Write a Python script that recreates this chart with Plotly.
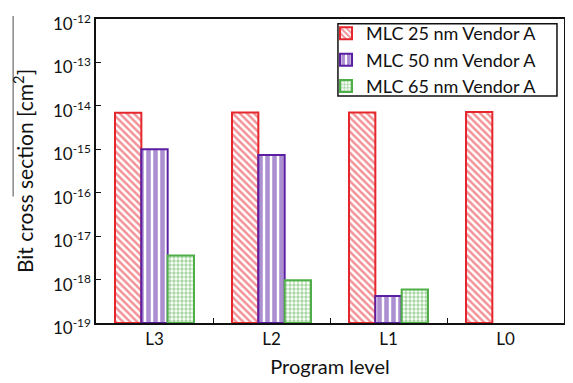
import plotly.graph_objects as go

categories = ["L3", "L2", "L1", "L0"]
mlc25 = [6.9e-15, 7.0e-15, 7.0e-15, 7.2e-15]
mlc50 = [1.0e-15, 7.4e-16, 3.2e-19, None]
mlc65 = [3.5e-18, 8.7e-19, 4.9e-19, None]
series_names = ["MLC 25 nm Vendor A", "MLC 50 nm Vendor A", "MLC 65 nm Vendor A"]
ytick_vals = [1e-19, 1e-18, 1e-17, 1e-16, 1e-15, 1e-14, 1e-13, 1e-12]
ytick_text = ["10<sup>-19</sup>", "10<sup>-18</sup>", "10<sup>-17</sup>", "10<sup>-16</sup>",
              "10<sup>-15</sup>", "10<sup>-14</sup>", "10<sup>-13</sup>", "10<sup>-12</sup>"]

colors = ["#e5262d", "#5a1fa3", "#4fae48"]
shapes = ["\\", "|", "."]
sizes = [5, 7, 4]
sol = [0.5, 0.65, 0.55]

fig = go.Figure()
for name, vals, c, sh, sz, so in zip(series_names, [mlc25, mlc50, mlc65], colors, shapes, sizes, sol):
    fig.add_trace(go.Bar(
        x=categories, y=vals, name=name, base=1e-19,
        marker=dict(color="white", line=dict(color=c, width=2),
                    pattern=dict(shape=sh, fgcolor=c, bgcolor="white", size=sz, solidity=so,
                                 fillmode="overlay")),
    ))

fig.update_layout(
    width=573, height=383,
    margin=dict(l=88, r=17, t=7, b=68),
    paper_bgcolor="white", plot_bgcolor="white",
    barmode="group", bargap=0.325, bargroupgap=0,
    font=dict(family="Lato, Open Sans, sans-serif", size=17, color="#111"),
    showlegend=True,
    legend=dict(x=0.4915, y=1.013, xanchor="left", yanchor="top",
                borderwidth=0, bgcolor="rgba(0,0,0,0)",
                font=dict(size=18), tracegroupgap=0),
    xaxis=dict(title=dict(text="Program level", font=dict(size=20), standoff=12),
               automargin=False,
               showline=True, linecolor="#111", linewidth=1.5, mirror=True,
               ticks="inside", ticklen=5, tickcolor="#111", tickson="boundaries",
               tickfont=dict(size=17)),
    yaxis=dict(type="log", range=[-19, -12], automargin=False, ticklabeloverflow="allow",
               ticklabelshift=5,
               title=dict(text="Bit cross section [cm<sup>2</sup>]", font=dict(size=21), standoff=14),
               tickvals=ytick_vals, ticktext=ytick_text,
               showline=True, linecolor="#111", linewidth=1.5, mirror=True,
               ticks="inside", ticklen=5, tickcolor="#111", showgrid=False,
               tickfont=dict(size=17)),
    shapes=[
        dict(type="line", xref="paper", yref="paper", x0=-0.177, x1=-0.177,
             y0=1.01, y1=0.416, line=dict(color="#888", width=1.5)),
        dict(type="rect", xref="paper", yref="paper", x0=0.517, x1=0.985,
             y0=0.747, y1=0.984, line=dict(color="#111", width=1.5)),
    ],
)

fig.write_html("out.html")
